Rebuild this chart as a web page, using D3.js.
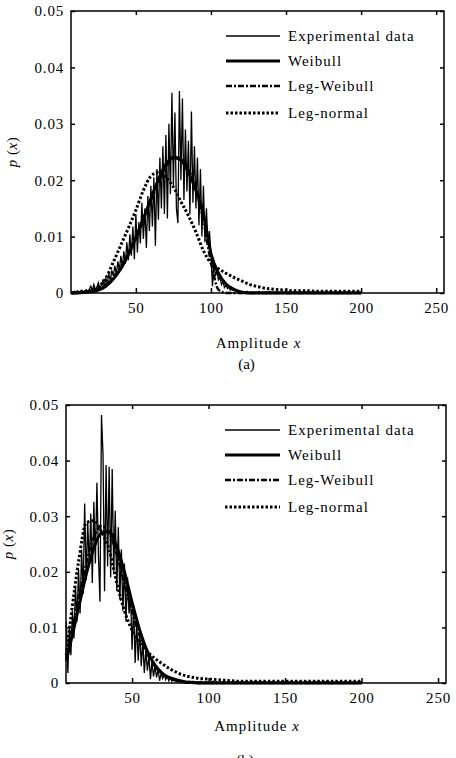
<!DOCTYPE html>
<html lang="en">
<head>
  <meta charset="UTF-8">
  <title>Amplitude distributions</title>
  <script src="https://d3js.org/d3.v7.min.js"></script>
  <style>
    body { margin: 0; background: #fff; }
    svg { display: block; }
    text { font-family: "Liberation Serif", "Times New Roman", serif; fill: #000; }
  </style>
</head>
<body>
  <svg width="456" height="758"></svg>

  <script>
    // ---- data ----
    const xTicks = [50, 100, 150, 200, 250];
    const yTicks = [0, 0.01, 0.02, 0.03, 0.04, 0.05];
    const seriesNames = [`Experimental data`, `Weibull`, `Leg-Weibull`, `Leg-normal`];
    const panelLabels = [`(a)`, `(b)`];

    // fitted curves are sampled on this amplitude grid
    const curveX = [7, 10, 15, 20, 25, 30, 35, 40, 45, 50, 55, 60, 65, 70, 75, 80, 85, 90, 95, 100,
      105, 110, 115, 120, 125, 130, 135, 140, 145, 150, 155, 160, 165, 170, 175, 180, 185, 190, 195, 200];

    // panel (a)
    const weibullA = [0, 0, 0.0001, 0.0002, 0.0005, 0.0012, 0.0025, 0.0043, 0.0068, 0.0098, 0.0132, 0.0167, 0.0201, 0.0228, 0.0240, 0.0236, 0.0214, 0.0182, 0.0140, 0.0070,
      0.0035, 0.0016, 0.0007, 0.0002, 0, 0, 0, 0, 0, 0, 0, 0, 0, 0, 0, 0, 0, 0, 0, 0];
    const legWeibullA = [0, 0, 0.0001, 0.0003, 0.0007, 0.0015, 0.0028, 0.0046, 0.0070, 0.0099, 0.0131, 0.0164, 0.0196, 0.0224, 0.0241, 0.0240, 0.0220, 0.0183, 0.0128, 0.0055,
      0.0006, 0, 0, 0, 0, 0, 0, 0, 0, 0, 0, 0, 0, 0, 0, 0, 0, 0, 0, 0];
    const legNormalA = [0, 0.0001, 0.0002, 0.0004, 0.0011, 0.0026, 0.0055, 0.0085, 0.0115, 0.0147, 0.0182, 0.0207, 0.0214, 0.0205, 0.0188, 0.0162, 0.0137, 0.0108, 0.0075, 0.0053,
      0.0043, 0.0035, 0.0028, 0.0022, 0.0016, 0.0012, 0.0009, 0.0007, 0.0006, 0.0005, 0.0004, 0.0004, 0.0004, 0.0003, 0.0003, 0.0003, 0.0003, 0.0003, 0.0003, 0.0003];
    // experimental histogram, one value per amplitude 7..200
    const expStartA = 7;
    const expA = [
      0.0002, 0.0001, 0.0003, 0.0002, 0.0004, 0.0002, 0.0003, 0.0005, 0.0002, 0.0004, 0.0006, 0.0003, 0.0007,
      0.0012, 0.0004, 0.0015, 0.0006, 0.0010, 0.0018, 0.0008, 0.0014, 0.0022, 0.0012,
      0.0026, 0.0018, 0.0034, 0.0022, 0.0040, 0.0030, 0.0048, 0.0034, 0.0056, 0.0040,
      0.0066, 0.0046, 0.0074, 0.0052, 0.0090, 0.0058, 0.0104, 0.0066, 0.0118, 0.0060,
      0.0140, 0.0072, 0.0126, 0.0088, 0.0160, 0.0096, 0.0150, 0.0080, 0.0172, 0.0110,
      0.0190, 0.0118, 0.0205, 0.0084, 0.0220, 0.0130, 0.0240, 0.0150, 0.0260, 0.0140,
      0.0280, 0.0132, 0.0300, 0.0175, 0.0355, 0.0190, 0.0320, 0.0150, 0.0124, 0.0358,
      0.0200, 0.0345, 0.0165, 0.0290, 0.0180, 0.0270, 0.0140, 0.0322, 0.0160, 0.0260,
      0.0150, 0.0240, 0.0120, 0.0220, 0.0100, 0.0190, 0.0090, 0.0150, 0.0085, 0.0110,
      0.0070, 0.0012, 0.0055, 0.0030, 0.0040, 0.0022, 0.0030, 0.0015, 0.0020, 0.0010,
      0.0014, 0.0008, 0.0010, 0.0005, 0.0007, 0.0004, 0.0005, 0.0003, 0.0004, 0.0002,
      0.0003, 0.0001, 0.0002, 0.0001, 0.0003, 0.0001, 0.0002, 0.0001, 0.0002, 0.0001,
      0.0002, 0.0001, 0.0003, 0.0001, 0.0002, 0.0001, 0.0002, 0.0002, 0.0001, 0.0003,
      0.0001, 0.0002, 0.0001, 0.0002, 0.0001, 0.0002, 0.0001, 0.0001, 0.0002, 0.0001,
      0.0002, 0.0001, 0.0002, 0.0001, 0.0001, 0.0002, 0.0001, 0.0002, 0.0001, 0.0001,
      0.0002, 0.0001, 0.0001, 0.0002, 0.0001, 0.0001, 0.0002, 0.0001, 0.0001, 0.0001,
      0.0002, 0.0001, 0.0001, 0.0001, 0.0002, 0.0001, 0.0001, 0.0001, 0.0001, 0.0002,
      0.0001, 0.0001, 0.0001, 0.0001, 0.0001, 0.0002, 0.0001, 0.0001, 0.0001, 0.0001,
      0.0001, 0.0001, 0.0002, 0.0001, 0.0001, 0.0001, 0.0001, 0.0001, 0.0001, 0.0001,
      0.0001];

    // panel (b)
    const weibullB = [0.0040, 0.0075, 0.0135, 0.0195, 0.0243, 0.0270, 0.0272, 0.0245, 0.0200, 0.0145, 0.0095, 0.0057, 0.0032, 0.0017, 0.0009, 0.0005, 0.0002, 0.0001, 0, 0,
      0, 0, 0, 0, 0, 0, 0, 0, 0, 0, 0, 0, 0, 0, 0, 0, 0, 0, 0, 0];
    const legWeibullB = [0.0045, 0.0085, 0.0150, 0.0215, 0.0262, 0.0282, 0.0270, 0.0232, 0.0180, 0.0128, 0.0085, 0.0052, 0.0030, 0.0016, 0.0008, 0.0003, 0.0001, 0, 0, 0,
      0, 0, 0, 0, 0, 0, 0, 0, 0, 0, 0, 0, 0, 0, 0, 0, 0, 0, 0, 0];
    const legNormalB = [0.0050, 0.0118, 0.0218, 0.0288, 0.0292, 0.0272, 0.0240, 0.0180, 0.0130, 0.0095, 0.0072, 0.0056, 0.0044, 0.0034, 0.0025, 0.0018, 0.0013, 0.0010, 0.0008, 0.0007,
      0.0006, 0.0005, 0.0004, 0.0003, 0.0003, 0.0003, 0.0003, 0.0003, 0.0003, 0.0003, 0.0003, 0.0003, 0.0003, 0.0003, 0.0003, 0.0003, 0.0003, 0.0003, 0.0003, 0.0003];
    const expStartB = 7;
    const expB = [
      0.0110, 0.0018, 0.0100,
      0.0050, 0.0130, 0.0080, 0.0175, 0.0110, 0.0205, 0.0125, 0.0240, 0.0160, 0.0323,
      0.0185, 0.0290, 0.0210, 0.0305, 0.0180, 0.0326, 0.0215, 0.0360, 0.0230, 0.0146,
      0.0482, 0.0410, 0.0165, 0.0392, 0.0210, 0.0389, 0.0190, 0.0385, 0.0200, 0.0310,
      0.0165, 0.0280, 0.0150, 0.0240, 0.0130, 0.0215, 0.0110, 0.0190, 0.0125, 0.0160,
      0.0060, 0.0140, 0.0036, 0.0110, 0.0040, 0.0095, 0.0030, 0.0075, 0.0018, 0.0060,
      0.0022, 0.0048, 0.0007, 0.0038, 0.0012, 0.0030, 0.0010, 0.0024, 0.0004, 0.0018,
      0.0008, 0.0015, 0.0006, 0.0012, 0.0004, 0.0010, 0.0003, 0.0008, 0.0004, 0.0006,
      0.0002, 0.0005, 0.0003, 0.0004, 0.0002, 0.0003, 0.0001, 0.0003, 0.0002, 0.0002,
      0.0003, 0.0001, 0.0002, 0.0002, 0.0001, 0.0003, 0.0001, 0.0002, 0.0001, 0.0002,
      0.0001, 0.0002, 0.0001, 0.0003, 0.0001, 0.0002, 0.0001, 0.0001, 0.0002, 0.0001,
      0.0002, 0.0001, 0.0001, 0.0002, 0.0001, 0.0002, 0.0001, 0.0001, 0.0002, 0.0001,
      0.0001, 0.0002, 0.0001, 0.0001, 0.0002, 0.0001, 0.0001, 0.0001, 0.0002, 0.0001,
      0.0001, 0.0001, 0.0002, 0.0001, 0.0001, 0.0001, 0.0002, 0.0001, 0.0001, 0.0001,
      0.0001, 0.0002, 0.0001, 0.0001, 0.0001, 0.0001, 0.0002, 0.0001, 0.0001, 0.0001,
      0.0001, 0.0001, 0.0002, 0.0001, 0.0001, 0.0001, 0.0001, 0.0001, 0.0002, 0.0001,
      0.0001, 0.0001, 0.0001, 0.0001, 0.0002, 0.0001, 0.0001, 0.0001, 0.0001, 0.0001,
      0.0002, 0.0001, 0.0001, 0.0001, 0.0001, 0.0001, 0.0001, 0.0002, 0.0001, 0.0001,
      0.0001, 0.0001, 0.0001, 0.0001, 0.0001, 0.0002, 0.0001, 0.0001, 0.0001, 0.0001,
      0.0001, 0.0001, 0.0001, 0.0001, 0.0001, 0.0001, 0.0002, 0.0001, 0.0001, 0.0001,
      0.0001];

    // ---- drawing ----
    const svg = d3.select(`svg`);
    const font = 15;

    const styles = [
      {width: 1.3, dash: null, color: `#000`},
      {width: 3, dash: null, color: `#000`},
      {width: 2.5, dash: `6,2,2,2`, color: `#000`},
      {width: 3, dash: `2.5,2`, color: `#000`},
    ];

    const panels = [
      {left: 71, right: 444, top: 11, bottom: 293, exp: expA, expStart: expStartA,
        curves: [weibullA, legWeibullA, legNormalA], label: panelLabels[0],
        xLabelY: 348, capY: 369, yLabelX: 17, legendX: 226},
      {left: 66, right: 446, top: 405, bottom: 683, exp: expB, expStart: expStartB,
        curves: [weibullB, legWeibullB, legNormalB], label: panelLabels[1],
        xLabelY: 731, capY: 765, yLabelX: 13, legendX: 225},
    ];

    panels.forEach(p => {
      const x = d3.scaleLinear().domain([6.8, 255.2]).range([p.left, p.right]);
      const y = d3.scaleLinear().domain([0, 0.05]).range([p.bottom, p.top]);
      const g = svg.append(`g`);

      const line = d3.line().x(d => x(d[0])).y(d => y(d[1]));

      // experimental trace
      g.append(`path`)
        .datum(p.exp.map((v, i) => [p.expStart + i, v]))
        .attr(`d`, line)
        .attr(`fill`, `none`)
        .attr(`stroke`, styles[0].color)
        .attr(`stroke-width`, styles[0].width);

      // fitted curves
      const smooth = d3.line().x(d => x(d[0])).y(d => y(d[1])).curve(d3.curveMonotoneX);
      p.curves.forEach((c, k) => {
        const s = styles[k + 1];
        g.append(`path`)
          .datum(curveX.map((xv, i) => [xv, c[i]]))
          .attr(`d`, smooth)
          .attr(`fill`, `none`)
          .attr(`stroke`, s.color)
          .attr(`stroke-width`, s.width)
          .attr(`stroke-dasharray`, s.dash);
      });

      // frame
      g.append(`rect`)
        .attr(`x`, p.left).attr(`y`, p.top)
        .attr(`width`, p.right - p.left).attr(`height`, p.bottom - p.top)
        .attr(`fill`, `none`).attr(`stroke`, `#000`).attr(`stroke-width`, 1.5);

      const yFmt = d => d === 0 ? `0` : d3.format(`.2f`)(d);

      const styleAxis = sel => {
        sel.select(`.domain`).remove();
        sel.selectAll(`line`).attr(`stroke-width`, 1.5);
        sel.selectAll(`text`)
          .attr(`font-family`, `"Liberation Serif", serif`)
          .attr(`font-size`, font)
          .attr(`letter-spacing`, `0.8px`);
      };

      g.append(`g`).attr(`transform`, `translate(0,${p.bottom})`)
        .call(d3.axisBottom(x).tickValues(xTicks).tickSize(-5).tickPadding(9))
        .call(styleAxis);
      g.append(`g`).attr(`transform`, `translate(0,${p.top})`)
        .call(d3.axisTop(x).tickValues(xTicks).tickSize(-4).tickFormat(``))
        .call(styleAxis);
      g.append(`g`).attr(`transform`, `translate(${p.left},0)`)
        .call(d3.axisLeft(y).tickValues(yTicks).tickSize(-4).tickPadding(7).tickFormat(yFmt))
        .call(styleAxis);
      g.append(`g`).attr(`transform`, `translate(${p.right},0)`)
        .call(d3.axisRight(y).tickValues(yTicks).tickSize(-4).tickFormat(``))
        .call(styleAxis);

      // axis titles
      const xt = g.append(`text`)
        .attr(`x`, (p.left + p.right) / 2 + 1).attr(`y`, p.xLabelY)
        .attr(`text-anchor`, `middle`).attr(`font-size`, font).attr(`letter-spacing`, `1px`);
      xt.append(`tspan`).text(`Amplitude `);
      xt.append(`tspan`).attr(`font-style`, `italic`).text(`x`);

      const yt = g.append(`text`)
        .attr(`transform`, `translate(${p.yLabelX},${(p.top + p.bottom) / 2}) rotate(-90)`)
        .attr(`text-anchor`, `middle`).attr(`font-size`, font).attr(`letter-spacing`, `0.5px`);
      yt.append(`tspan`).attr(`font-style`, `italic`).text(`p`);
      yt.append(`tspan`).text(` (`);
      yt.append(`tspan`).attr(`font-style`, `italic`).text(`x`);
      yt.append(`tspan`).text(`)`);

      g.append(`text`)
        .attr(`x`, (p.left + p.right) / 2 - 11).attr(`y`, p.capY)
        .attr(`text-anchor`, `middle`).attr(`font-size`, font)
        .text(p.label);

      // legend
      const rows = [25, 50, 75, 102];
      seriesNames.forEach((name, k) => {
        const s = styles[k];
        const ry = p.top + rows[k];
        g.append(`line`)
          .attr(`x1`, p.legendX).attr(`x2`, 280)
          .attr(`y1`, ry).attr(`y2`, ry)
          .attr(`stroke`, s.color).attr(`stroke-width`, s.width)
          .attr(`stroke-dasharray`, s.dash);
        g.append(`text`)
          .attr(`x`, 288).attr(`y`, ry + 5)
          .attr(`font-size`, font).attr(`letter-spacing`, `1px`)
          .text(name);
      });
    });
  </script>
</body>
</html>
